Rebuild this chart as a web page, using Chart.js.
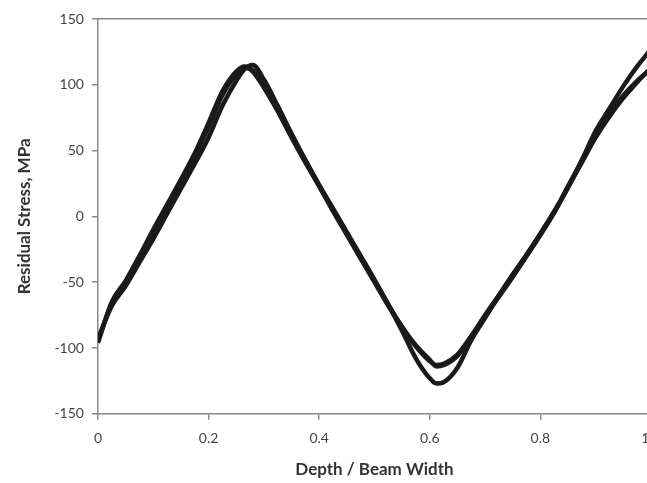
<!DOCTYPE html>
<html>
<head>
<meta charset="utf-8">
<script src="https://cdn.jsdelivr.net/npm/chart.js@4.4.1/dist/chart.umd.min.js"></script>
<style>
  html, body { margin: 0; padding: 0; background: #fff; overflow: hidden; }
  #wrap { width: 700px; height: 483px; }
</style>
</head>
<body>
<div id="wrap"><canvas id="stressChart" width="700" height="483"></canvas></div>
<script>
// depth / beam width positions shared by all three measurements
const depth = [0, 0.025, 0.05, 0.075, 0.1, 0.125, 0.15, 0.175, 0.2, 0.225, 0.25, 0.265, 0.28, 0.3,
  0.325, 0.35, 0.375, 0.4, 0.425, 0.45, 0.475, 0.5, 0.525, 0.55, 0.575, 0.6, 0.612, 0.625, 0.65,
  0.675, 0.7, 0.725, 0.75, 0.775, 0.8, 0.825, 0.85, 0.875, 0.9, 0.925, 0.95, 0.975, 1];

// residual stress, MPa
const stressA = [-95, -66, -50, -31, -12, 8, 27, 46, 68, 92, 108, 113, 111, 100,
  81, 61, 42, 23, 5, -13, -31, -49, -67, -84, -99, -110, -113, -112, -105,
  -91, -76, -61, -46, -30, -14, 3, 22, 41, 60, 76, 90, 102, 113];
const stressB = [-93, -68, -53, -35, -17, 2, 21, 40, 60, 84, 103, 112, 115, 104,
  84, 63, 43, 24, 6, -12, -30, -48, -67, -87, -108, -123, -127, -126, -115,
  -94, -77, -60, -44, -29, -13, 4, 22, 43, 65, 82, 99, 114, 127];
const stressC = [-96, -65, -49, -30, -10, 9, 28, 48, 71, 95, 110, 114, 110, 98,
  80, 60, 41, 23, 4, -14, -32, -50, -68, -84, -98, -109, -114, -113, -106,
  -91, -75, -60, -45, -30, -14, 3, 23, 42, 61, 78, 92, 103, 112];

const xTicks = [0, 0.2, 0.4, 0.6, 0.8, 1];
const yTicks = [-150, -100, -50, 0, 50, 100, 150];

function toPoints(ys) {
  return depth.map((d, i) => ({ x: d, y: ys[i] }));
}

function lineSet(ys) {
  return {
    data: toPoints(ys),
    borderColor: "#1a1a1a",
    borderWidth: 4.5,
    pointRadius: 0,
    cubicInterpolationMode: "monotone",
    fill: false,
  };
}

const axisColor = "#8a8a8a";
const tickFont = { family: "Lato", size: 14 };

const ctx = document.getElementById("stressChart").getContext("2d");
const stressChart = new Chart(ctx, {
  type: "line",
  data: {
    datasets: [lineSet(stressA), lineSet(stressB), lineSet(stressC)],
  },
  options: {
    responsive: false,
    animation: false,
    layout: { padding: { top: 19, right: 49, bottom: 3, left: 14 } },
    scales: {
      x: {
        type: "linear",
        min: 0,
        max: 1,
        afterBuildTicks: (axis) => { axis.ticks = xTicks.map((v) => ({ value: v })); },
        grid: { drawOnChartArea: false, tickLength: 6, color: axisColor, lineWidth: 1.5 },
        border: { color: axisColor, width: 1.5 },
        ticks: { color: "#444", font: tickFont, padding: 10 },
        title: {
          display: true,
          text: "Depth / Beam Width",
          color: "#333",
          font: { family: "Lato", size: 17, weight: "bold" },
          padding: { top: 3, bottom: 0 },
        },
      },
      top: {
        type: "linear",
        position: "top",
        min: 0,
        max: 1,
        grid: { display: false, drawTicks: false },
        ticks: { display: false },
        border: { color: axisColor, width: 1.5 },
      },
      y: {
        min: -150,
        max: 150,
        afterBuildTicks: (axis) => { axis.ticks = yTicks.map((v) => ({ value: v })); },
        grid: { drawOnChartArea: false, tickLength: 6, color: axisColor, lineWidth: 1.5 },
        border: { color: axisColor, width: 1.5 },
        ticks: { color: "#444", font: tickFont, padding: 8 },
        title: {
          display: true,
          text: "Residual Stress, MPa",
          color: "#333",
          font: { family: "Lato", size: 17, weight: "bold" },
          padding: { top: 0, bottom: 12 },
        },
      },
    },
    plugins: {
      legend: { display: false },
      tooltip: { enabled: false },
    },
  },
});
</script>
</body>
</html>
